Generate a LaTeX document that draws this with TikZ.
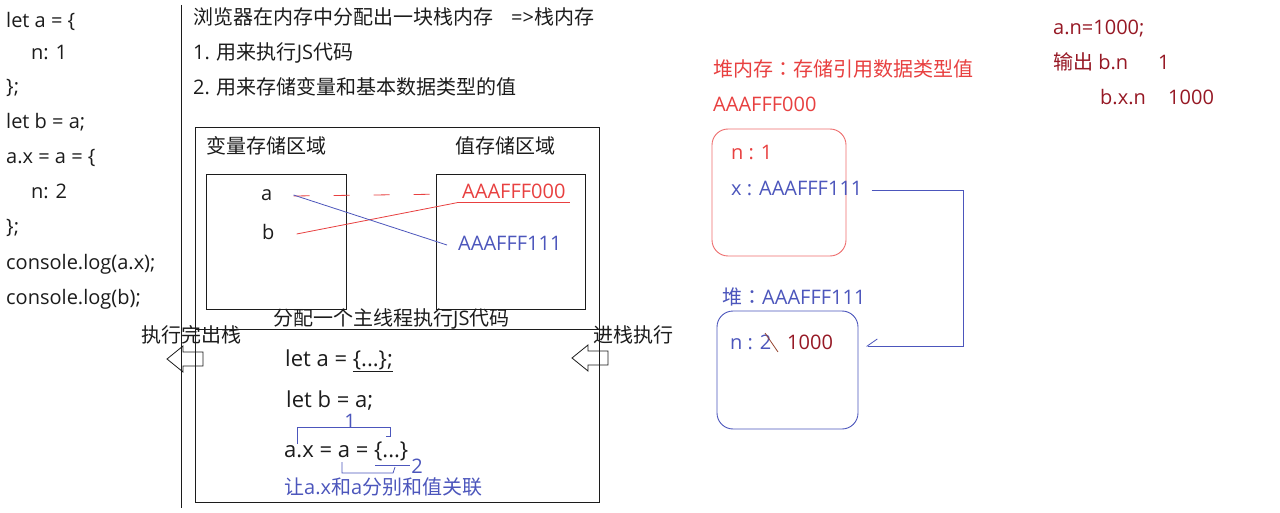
\documentclass[tikz,border=0pt]{standalone}
\usepackage{fontspec}
\setmainfont{Open Sans}
\newfontfamily\cjk{Noto Sans CJK SC}
\newfontfamily\cjkc{Noto Sans CJK TC}
\usetikzlibrary{arrows.meta}
\definecolor{memred}{RGB}{232,64,64}
\definecolor{boxred}{RGB}{238,110,110}
\definecolor{ptrblue}{RGB}{76,86,188}
\definecolor{darkred}{RGB}{150,24,36}
\definecolor{strike}{RGB}{150,70,50}
\definecolor{ink}{RGB}{28,28,28}
\newcommand\fwcolon{{\cjkc ：}}
\tikzset{
  txt/.style={anchor=west,inner sep=0pt,text height=15pt,text depth=4pt,text=ink},
  big/.style={font=\fontsize{22}{26}\selectfont},
  frame/.style={draw=ink,line width=0.9pt},
  heapbox/.style={draw,line width=0.9pt,rounded corners=16pt}
}
\begin{document}
\begin{tikzpicture}[x=1pt,y=-1pt,font=\fontsize{20}{24}\selectfont]
\path[fill=white](0,0)rectangle(1280,513);
\useasboundingbox(0,0)rectangle(1280,513);
% code on the left
\foreach \yy/\xx/\code [count=\i] in {22/6/{let a = \{},54/31/{n: 1},88/6/{\};},123/6/{let b = a;},158/6/{a.x = a = \{},193/31/{n: 2},228/6/{\};},264/6/{console.log(a.x);},299/6/{console.log(b);}}
  \node[txt](code\i) at (\xx,\yy){\code};
\draw[frame](181,5)--(181,508);
% stack memory
\node[txt](s1) at (193,19){{\cjk 浏览器在内存中分配出一块栈内存}\hspace{18pt}=>{\cjk 栈内存}};
\node[txt](s2) at (193,54){1. {\cjk 用来执行}JS{\cjk 代码}};
\node[txt](s3) at (193,89){2. {\cjk 用来存储变量和基本数据类型的值}};
\draw[frame](195,127)rectangle(599,329);
\draw[frame](195,329)rectangle(599,502);
\draw[frame](206,174)rectangle(346,309);
\draw[frame](436,174)rectangle(585,309);
\node[txt](varlbl) at (206,148){\cjk 变量存储区域};
\node[txt](vallbl) at (455,148){\cjk 值存储区域};
\node[txt](a) at (261,195){a};
\node[txt](b) at (262,234){b};
\node[txt,text=memred](v0) at (462,193){AAAFFF000};
\node[txt,text=ptrblue](v1) at (458,245){AAAFFF111};
\draw[memred,line width=0.8pt]([xshift=-5pt]v0.south west)--([xshift=4pt]v0.south east);
\draw[memred,line width=0.8pt,dash pattern=on 16pt off 24pt]([xshift=21pt,yshift=-1pt]a.east)--([xshift=-9pt,yshift=-1pt]v0.west);
\draw[memred,line width=0.8pt]([xshift=22pt]b.east)--([xshift=-5pt]v0.south west);
\draw[ptrblue,line width=0.8pt]([xshift=21pt]a.east)--([xshift=-11pt]v1.west);
\node[txt](mainth) at (273,320){{\cjk 分配一个主线程执行}JS{\cjk 代码}};
% push / pop arrows
\foreach \tx/\ty in {167/359,572/358}
  \draw[frame,line width=0.8pt](\tx,\ty)--++(16,-13)--++(0,6)--++(20,0)--++(0,14)--++(-20,0)--++(0,6)--cycle;
\node[txt](popl) at (141,337){\cjk 执行完出栈};
\node[txt](pushl) at (593,337){\cjk 进栈执行};
% executed code
\node[txt,big](e1) at (285,361){let a = \underline{\{...\};}};
\node[txt,big](e2) at (286,402){let b = a;};
\node[txt,big](e3) at (284,452){a.x = a = \{...\}};
\draw[ptrblue,line width=0.8pt](297,444)--(297,427)--(390,427)--(390,436)--(386,436);
\node[text=ptrblue,inner sep=0pt](one) at (350,421){1};
\draw[ptrblue,line width=0.8pt](342,462)--(342,473)--(393,473)--(395,467);
\draw[ptrblue,line width=0.8pt](375,465)--(410,465);
\node[text=ptrblue,inner sep=0pt](two) at (417,466){2};
\node[txt,text=ptrblue](note) at (284,489){{\cjk 让}a.x{\cjk 和}a{\cjk 分别和值关联}};
% heap memory
\node[txt,text=memred](h0) at (713,71){{\cjk 堆内存}\fwcolon{\cjk 存储引用数据类型值}};
\node[txt,text=memred](h1) at (713,106){AAAFFF000};
\draw[heapbox,boxred](712,129)rectangle(846,256);
\node[txt,text=memred](n1) at (731,154){n : 1};
\node[txt,text=ptrblue](xptr) at (731,190){x : AAAFFF111};
\node[txt,text=ptrblue](h2) at (722,299){{\cjk 堆}\fwcolon AAAFFF111};
\draw[heapbox,ptrblue](717,311)rectangle(858,429);
\node[txt,text=ptrblue](n2) at (730,344){n : 2};
\node[txt,text=darkred](n2new) at (787,344){1000};
\draw[strike,line width=0.8pt](765,333)--(778,352);
\coordinate(xin) at (866,346);
\draw[ptrblue,line width=0.8pt,-{Straight Barb[right,length=10pt,width=14pt]}]([xshift=9pt]xptr.east)-|(963,280)|-(xin);
% result
\node[txt,text=darkred](r1) at (1053,29){a.n=1000;};
\node[txt,text=darkred](r2) at (1053,64){{\cjk 输出} b.n};
\node[txt,text=darkred](r2v) at (1158,64){1};
\node[txt,text=darkred](r3) at (1100,99){b.x.n};
\node[txt,text=darkred](r3v) at (1168,99){1000};
\end{tikzpicture}
\end{document}
